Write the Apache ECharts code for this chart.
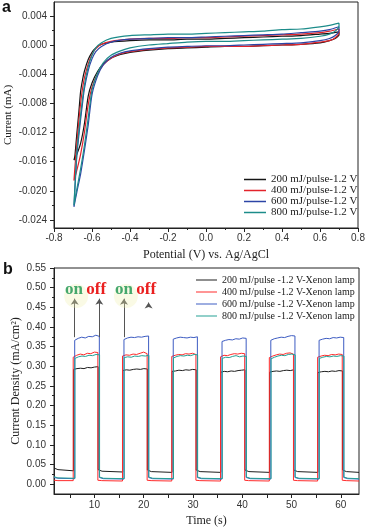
<!DOCTYPE html>
<html>
<head>
<meta charset="utf-8">
<script src="https://cdn.jsdelivr.net/npm/echarts@6/dist/echarts.min.js"></script>
<style>
html,body{margin:0;padding:0;background:#fff;}
#main{width:365px;height:530px;}
</style>
</head>
<body>
<div id="main"></div>
<script>
// ---- panel a : cyclic voltammetry ----
var cvNames = ['200 mJ/pulse-1.2 V', '400 mJ/pulse-1.2 V', '600 mJ/pulse-1.2 V', '800 mJ/pulse-1.2 V'];
var cvColors = ['#151515', '#e3232b', '#2c45a6', '#1c8c8a'];
// forward scan potentials (V) and return scan potentials (V)
var cvUpV = [-0.695, -0.69, -0.68, -0.67, -0.66, -0.65, -0.64, -0.62, -0.60, -0.58, -0.55, -0.50, -0.40, -0.30, -0.20, -0.10, 0, 0.1, 0.2, 0.3, 0.4, 0.5, 0.6, 0.65, 0.7];
var cvDownV = [0.7, 0.68, 0.65, 0.6, 0.5, 0.4, 0.3, 0.2, 0.1, 0, -0.1, -0.2, -0.3, -0.4, -0.45, -0.5, -0.54, -0.57, -0.6, -0.62, -0.64, -0.66, -0.68, -0.695];
// currents (mA)
var cv200Up = [-0.0158, -0.0152, -0.0122, -0.0094, -0.0064, -0.0048, -0.0036, -0.0020, -0.0010, -0.0004, 0.0001, 0.0004, 0.0006, 0.0007, 0.0007, 0.0008, 0.0008, 0.0009, 0.0010, 0.0011, 0.0012, 0.0013, 0.0015, 0.0016, 0.0018];
var cv200Down = [0.0014, 0.0009, 0.0006, 0.0003, 0.0001, 0.0000, -0.0001, -0.0002, -0.0002, -0.0003, -0.0004, -0.0005, -0.0007, -0.0010, -0.0013, -0.0018, -0.0026, -0.0036, -0.0052, -0.0070, -0.0108, -0.0135, -0.0150, -0.0158];
var cv400Up = [-0.0186, -0.0168, -0.0136, -0.0106, -0.0080, -0.0060, -0.0045, -0.0026, -0.0013, -0.0005, 0.0001, 0.0005, 0.0008, 0.0009, 0.0009, 0.0010, 0.0010, 0.0011, 0.0012, 0.0013, 0.0014, 0.0015, 0.0017, 0.0019, 0.0022];
var cv400Down = [0.0017, 0.0010, 0.0006, 0.0004, 0.0001, 0.0000, -0.0001, -0.0002, -0.0002, -0.0002, -0.0003, -0.0004, -0.0006, -0.0009, -0.0012, -0.0018, -0.0027, -0.0039, -0.0058, -0.0082, -0.0120, -0.0150, -0.0172, -0.0186];
var cv600Up = [-0.0222, -0.0198, -0.0152, -0.0126, -0.0102, -0.0080, -0.0060, -0.0035, -0.0019, -0.0009, -0.0002, 0.0004, 0.0008, 0.0009, 0.0010, 0.0010, 0.0011, 0.0012, 0.0013, 0.0014, 0.0015, 0.0017, 0.0019, 0.0021, 0.0025];
var cv600Down = [0.0020, 0.0013, 0.0009, 0.0006, 0.0003, 0.0002, 0.0001, 0.0000, -0.0001, -0.0001, -0.0002, -0.0003, -0.0005, -0.0008, -0.0011, -0.0017, -0.0027, -0.0042, -0.0068, -0.0110, -0.0145, -0.0177, -0.0202, -0.0222];
var cv800Up = [-0.0220, -0.0194, -0.0148, -0.0120, -0.0096, -0.0074, -0.0055, -0.0030, -0.0014, -0.0004, 0.0003, 0.0009, 0.0013, 0.0014, 0.0015, 0.0015, 0.0016, 0.0017, 0.0018, 0.0019, 0.0021, 0.0022, 0.0025, 0.0027, 0.0030];
var cv800Down = [0.0026, 0.0019, 0.0015, 0.0012, 0.0009, 0.0008, 0.0007, 0.0006, 0.0005, 0.0005, 0.0004, 0.0002, 0.0000, -0.0004, -0.0008, -0.0014, -0.0024, -0.0038, -0.0062, -0.0100, -0.0138, -0.0170, -0.0198, -0.0220];
var cvUp = [cv200Up, cv400Up, cv600Up, cv800Up];
var cvDown = [cv200Down, cv400Down, cv600Down, cv800Down];
var aYTicks = [-0.024, -0.020, -0.016, -0.012, -0.008, -0.004, 0, 0.004];
var aYMinor = [-0.022, -0.018, -0.014, -0.010, -0.006, -0.002, 0.002];

// ---- panel b : chopped photocurrent ----
var ptNames = ['200 mJ/pulse -1.2 V-Xenon lamp', '400 mJ/pulse -1.2 V-Xenon lamp', '600 mJ/pulse -1.2 V-Xenon lamp', '800 mJ/pulse -1.2 V-Xenon lamp'];
var ptColors = ['#1e1e1e', '#ff2b2b', '#3d5cc2', '#24a094'];
var onTimes = [6.0, 16.0, 26.0, 35.9, 45.8, 55.6];
var offTimes = [11.0, 21.0, 30.9, 40.8, 50.7, 60.6];
var ptShift = [-0.25, -0.3, 0, 0.05];
// dark current: [start, after ~1 s, end] for each dark interval (mA/cm2)
var dark200 = [[0.041, 0.037, 0.034], [0.037, 0.033, 0.031], [0.036, 0.032, 0.030], [0.036, 0.032, 0.030], [0.036, 0.032, 0.030], [0.036, 0.032, 0.030], [0.036, 0.032, 0.030]];
var dark400 = [[0.010, 0.009, 0.009], [0.010, 0.009, 0.008], [0.010, 0.009, 0.008], [0.010, 0.009, 0.008], [0.010, 0.009, 0.008], [0.010, 0.009, 0.008], [0.010, 0.009, 0.008]];
var dark600 = [[0.017, 0.015, 0.014], [0.017, 0.014, 0.013], [0.017, 0.014, 0.013], [0.017, 0.014, 0.013], [0.017, 0.014, 0.013], [0.017, 0.014, 0.013], [0.017, 0.014, 0.013]];
var dark800 = [[0.019, 0.016, 0.015], [0.018, 0.015, 0.014], [0.018, 0.015, 0.014], [0.018, 0.015, 0.014], [0.018, 0.015, 0.014], [0.018, 0.015, 0.014], [0.018, 0.015, 0.014]];
// light-on plateau readings for each pulse
var light200 = [
  [0.292, 0.294, 0.295, 0.294, 0.297, 0.296, 0.298, 0.299],
  [0.289, 0.291, 0.290, 0.292, 0.293, 0.292, 0.294, 0.293],
  [0.287, 0.288, 0.290, 0.289, 0.291, 0.290, 0.292, 0.291],
  [0.285, 0.287, 0.286, 0.288, 0.287, 0.289, 0.290, 0.291],
  [0.285, 0.287, 0.288, 0.287, 0.289, 0.290, 0.289, 0.291],
  [0.284, 0.286, 0.287, 0.286, 0.288, 0.287, 0.289, 0.288]];
var light400 = [
  [0.323, 0.328, 0.331, 0.329, 0.333, 0.332, 0.336, 0.335],
  [0.326, 0.329, 0.328, 0.331, 0.330, 0.333, 0.336, 0.332],
  [0.325, 0.328, 0.330, 0.329, 0.332, 0.331, 0.333, 0.330],
  [0.324, 0.328, 0.327, 0.330, 0.332, 0.331, 0.333, 0.332],
  [0.322, 0.326, 0.329, 0.331, 0.330, 0.333, 0.334, 0.331],
  [0.323, 0.326, 0.328, 0.327, 0.330, 0.329, 0.331, 0.330]];
var light600 = [
  [0.366, 0.371, 0.374, 0.372, 0.376, 0.375, 0.379, 0.376],
  [0.368, 0.372, 0.374, 0.373, 0.375, 0.374, 0.376, 0.377],
  [0.369, 0.372, 0.374, 0.373, 0.372, 0.374, 0.373, 0.375],
  [0.363, 0.366, 0.368, 0.367, 0.370, 0.369, 0.372, 0.371],
  [0.366, 0.370, 0.372, 0.374, 0.373, 0.376, 0.378, 0.377],
  [0.366, 0.369, 0.371, 0.370, 0.373, 0.372, 0.374, 0.373]];
var light800 = [
  [0.320, 0.324, 0.326, 0.325, 0.328, 0.327, 0.330, 0.329],
  [0.322, 0.324, 0.323, 0.326, 0.325, 0.327, 0.326, 0.328],
  [0.321, 0.325, 0.327, 0.326, 0.328, 0.327, 0.330, 0.329],
  [0.320, 0.323, 0.322, 0.325, 0.327, 0.324, 0.326, 0.325],
  [0.319, 0.323, 0.326, 0.328, 0.327, 0.330, 0.331, 0.329],
  [0.320, 0.323, 0.325, 0.324, 0.326, 0.325, 0.327, 0.326]];
var darkAll = [dark200, dark400, dark600, dark800];
var lightAll = [light200, light400, light600, light800];
var bXMin = 1.8, bXMax = 63.7;
var bXLabels = [10, 20, 30, 40, 50, 60];
var bXTicks = [5, 10, 15, 20, 25, 30, 35, 40, 45, 50, 55, 60];
var bYTicks = [0, 0.05, 0.10, 0.15, 0.20, 0.25, 0.30, 0.35, 0.40, 0.45, 0.50, 0.55];
var bYMinor = [0.025, 0.075, 0.125, 0.175, 0.225, 0.275, 0.325, 0.375, 0.425, 0.475, 0.525];

var serif = 'Liberation Serif';
var sans = 'Liberation Sans';

function cvLoop(i) {
  var pts = [];
  cvUpV.forEach(function (v, k) { pts.push([v, cvUp[i][k]]); });
  cvDownV.forEach(function (v, k) { pts.push([v, cvDown[i][k]]); });
  return pts;
}

function pulseTrace(i) {
  var dark = darkAll[i], light = lightAll[i], s = ptShift[i];
  var pts = [];
  for (var k = 0; k < dark.length; k++) {
    var t0 = k === 0 ? bXMin : offTimes[k - 1] + s;
    var t1 = k < onTimes.length ? onTimes[k] + s : bXMax;
    pts.push([t0, dark[k][0]], [t0 + 0.8, dark[k][1]], [t1, dark[k][2]]);
    if (k < light.length) {
      var on = onTimes[k] + s, off = offTimes[k] + s, p = light[k];
      for (var j = 0; j < p.length; j++) {
        pts.push([on + (off - on) * j / (p.length - 1), p[j]]);
      }
    }
  }
  return pts;
}

var tickLabel = {color: '#333', fontFamily: sans, fontSize: 10};
var axisLine = {onZero: false, lineStyle: {color: '#222', width: 1}};

var series = [];
cvNames.forEach(function (n, i) {
  series.push({
    name: n, type: 'line', xAxisIndex: 0, yAxisIndex: 0,
    data: cvLoop(i), showSymbol: false, symbol: 'none', smooth: 0.2,
    lineStyle: {color: cvColors[i], width: 1.2}, itemStyle: {color: cvColors[i]}
  });
});
ptNames.forEach(function (n, i) {
  series.push({
    name: n, type: 'line', xAxisIndex: 1, yAxisIndex: 2,
    data: pulseTrace(i), showSymbol: false, symbol: 'none',
    lineStyle: {color: ptColors[i], width: 1}, itemStyle: {color: ptColors[i]}
  });
});

// on/off annotations and arrows
var last = series[series.length - 1];
var glow = {symbol: 'circle', symbolSize: 24, itemStyle: {color: 'rgba(238,238,170,0.3)'}, label: {show: false}};
function word(t, txt, col) {
  return {coord: [t, 0.494], symbol: 'circle', symbolSize: 1, itemStyle: {color: 'rgba(0,0,0,0)'},
    label: {show: true, position: 'inside', formatter: txt, color: col, fontFamily: serif, fontWeight: 'bold', fontSize: 17}};
}
last.markPoint = {
  silent: true,
  data: [
    Object.assign({coord: [6.3, 0.479]}, glow),
    Object.assign({coord: [16.4, 0.479]}, glow),
    word(5.85, 'on', '#45a86c'), word(10.35, 'off', '#ea1f1f'),
    word(16.0, 'on', '#45a86c'), word(20.5, 'off', '#ea1f1f')
  ]
};
last.markLine = {
  silent: true, symbol: ['none', 'arrow'], symbolSize: 6,
  lineStyle: {color: '#555', width: 1, type: 'solid'}, label: {show: false},
  data: [
    [{coord: [onTimes[0], 0.374]}, {coord: [onTimes[0], 0.472]}],
    [{coord: [offTimes[0], 0.374]}, {coord: [offTimes[0], 0.472]}],
    [{coord: [onTimes[1], 0.374]}, {coord: [onTimes[1], 0.472]}],
    [{coord: [offTimes[1], 0.455]}, {coord: [offTimes[1], 0.462]}]
  ]
};

var myChart = echarts.init(document.getElementById('main'));
var option = {
  animation: false,
  backgroundColor: '#fff',
  grid: [
    {left: 54, top: 2, width: 304, height: 226, show: true, borderColor: '#222', borderWidth: 1, outerBoundsMode: 'none'},
    {left: 54, top: 268, width: 305, height: 226, show: true, borderColor: '#222', borderWidth: 1, outerBoundsMode: 'none'}
  ],
  legend: [
    {data: cvNames, orient: 'vertical', left: 244, top: 174, padding: 0, icon: 'rect', itemWidth: 22, itemHeight: 1.5, itemGap: 0,
      textStyle: {fontFamily: serif, fontSize: 11, color: '#222', lineHeight: 11}},
    {data: ptNames, orient: 'vertical', left: 196, top: 274, padding: 0, icon: 'rect', itemWidth: 21, itemHeight: 1, itemGap: 0,
      textStyle: {fontFamily: serif, fontSize: 10, color: '#222', lineHeight: 12}}
  ],
  graphic: [
    {type: 'text', left: 2, top: 0, style: {text: 'a', font: 'bold 16px "Liberation Sans"', fill: '#111'}},
    {type: 'text', left: 3, top: 262, style: {text: 'b', font: 'bold 16px "Liberation Sans"', fill: '#111'}}
  ],
  xAxis: [
    {
      type: 'value', gridIndex: 0, min: -0.8, max: 0.8, interval: 0.2,
      name: 'Potential (V) vs. Ag/AgCl', nameLocation: 'middle', nameGap: 21, nameMoveOverlap: false,
      nameTextStyle: {fontFamily: serif, fontSize: 12, color: '#222'},
      axisLine: axisLine, axisTick: {length: 4, lineStyle: {color: '#222'}},
      minorTick: {show: true, splitNumber: 2, length: 2, lineStyle: {color: '#222'}},
      splitLine: {show: false},
      axisLabel: Object.assign({margin: 5, formatter: function (v) { return (Math.abs(v) < 1e-9 ? 0 : v).toFixed(1); }}, tickLabel)
    },
    {
      type: 'value', gridIndex: 1, min: bXMin, max: bXMax,
      name: 'Time (s)', nameLocation: 'middle', nameGap: 21, nameMoveOverlap: false,
      nameTextStyle: {fontFamily: serif, fontSize: 12, color: '#222'},
      axisLine: axisLine, axisTick: {length: 4, customValues: bXTicks, lineStyle: {color: '#222'}},
      splitLine: {show: false},
      axisLabel: Object.assign({margin: 6, customValues: bXLabels}, tickLabel)
    }
  ],
  yAxis: [
    {
      type: 'value', gridIndex: 0, min: -0.0251, max: 0.0059, position: 'left',
      name: 'Current (mA)', nameLocation: 'middle', nameGap: 40, nameMoveOverlap: false,
      nameTextStyle: {fontFamily: serif, fontSize: 11, color: '#222'},
      axisLine: axisLine, axisTick: {length: 4, customValues: aYTicks, lineStyle: {color: '#222'}},
      splitLine: {show: false},
      axisLabel: Object.assign({margin: 7, customValues: aYTicks, formatter: function (v) { return (Math.abs(v) < 1e-9 ? 0 : v).toFixed(3); }}, tickLabel)
    },
    {
      type: 'value', gridIndex: 0, min: -0.0251, max: 0.0059, position: 'left',
      axisLine: {show: false, onZero: false}, axisLabel: {show: false}, splitLine: {show: false},
      axisTick: {length: 2, customValues: aYMinor, lineStyle: {color: '#222'}}
    },
    {
      type: 'value', gridIndex: 1, min: -0.025, max: 0.55, position: 'left',
      name: 'Current Density (mA/cm²)', nameLocation: 'middle', nameGap: 32, nameMoveOverlap: false,
      nameTextStyle: {fontFamily: serif, fontSize: 12, color: '#222'},
      axisLine: axisLine, axisTick: {length: 4, customValues: bYTicks, lineStyle: {color: '#222'}},
      splitLine: {show: false},
      axisLabel: Object.assign({margin: 8, customValues: bYTicks, formatter: function (v) { return v.toFixed(2); }}, tickLabel)
    },
    {
      type: 'value', gridIndex: 1, min: -0.025, max: 0.55, position: 'left',
      axisLine: {show: false, onZero: false}, axisLabel: {show: false}, splitLine: {show: false},
      axisTick: {length: 2, customValues: bYMinor, lineStyle: {color: '#222'}}
    }
  ],
  series: series
};
myChart.setOption(option);
</script>
</body>
</html>
